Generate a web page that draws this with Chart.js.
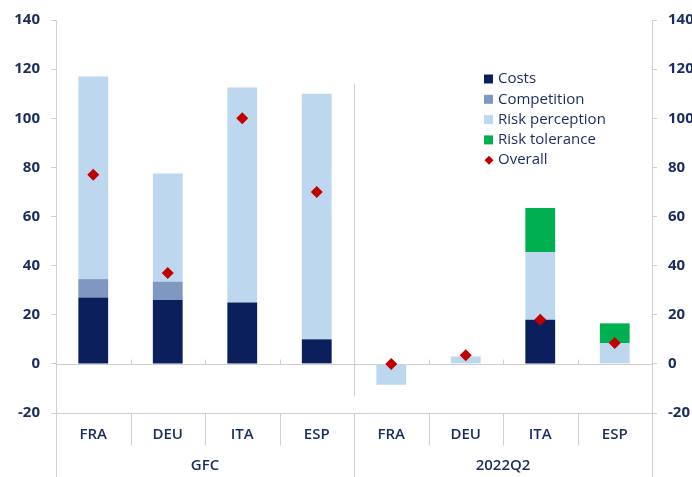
<!DOCTYPE html>
<html>
<head>
<meta charset="utf-8">
<script src="https://cdn.jsdelivr.net/npm/chart.js@4.4.1/dist/chart.umd.min.js"></script>
<style>
  body { margin: 0; background: #fff; }
  #wrap { width: 692px; height: 477px; position: relative; }
</style>
</head>
<body>
<div id="wrap"><canvas id="chart"></canvas></div>
<script>
const countries = ["FRA", "DEU", "ITA", "ESP", "FRA", "DEU", "ITA", "ESP"];
const groups = ["GFC", "2022Q2"];
const costs = [27, 26, 25, 10, 0, 0, 18, 0];
const competition = [7.5, 7.5, 0, 0, 0, 0, 0, 0];
const riskPerception = [82.5, 44, 87.5, 100, -8.5, 3, 27.5, 8.5];
const riskTolerance = [0, 0, 0, 0, 0, 0, 18, 8];
const overall = [77, 37, 100, 70, 0, 3.5, 18, 8.5];
const yMin = -20, yMax = 140, yStep = 20;

const navy = "#1b2c5e";
const lineGrey = "#cfcfcf";
const fontName = "'Open Sans', Lato, sans-serif";

// grey frame, separators, group labels and the legend
const framePlugin = {
  id: "frame",
  beforeDatasetsDraw(chart) {
    const ctx = chart.ctx;
    const area = chart.chartArea;
    const x = chart.scales.x;
    const y = chart.scales.y;
    const H = chart.height;
    const half = (x.getPixelForValue(1) - x.getPixelForValue(0)) / 2;
    ctx.save();
    ctx.strokeStyle = lineGrey;
    ctx.lineWidth = 1;
    const line = (x1, y1, x2, y2) => {
      ctx.beginPath();
      ctx.moveTo(Math.round(x1) + 0.5, Math.round(y1) + 0.5);
      ctx.lineTo(Math.round(x2) + 0.5, Math.round(y2) + 0.5);
      ctx.stroke();
    };
    const y0 = y.getPixelForValue(0);
    line(area.left, area.top, area.left, H);
    line(area.right, area.top, area.right, H);
    line(area.left, y0, area.right, y0);
    line(area.left, area.bottom, area.right, area.bottom);
    // group divider
    const mid = x.getPixelForValue(3) + half;
    line(mid, y.getPixelForValue(114.5), mid, y.getPixelForValue(-13));
    line(mid, area.bottom, mid, H);
    // category separators
    [0, 1, 2, 4, 5, 6].forEach(i => {
      const sx = x.getPixelForValue(i) + half;
      line(sx, area.bottom, sx, area.bottom + 32);
      line(sx, y0 - 5, sx, y0);
    });
    ctx.restore();
  },
  afterDraw(chart) {
    const ctx = chart.ctx;
    const x = chart.scales.x;
    ctx.save();
    ctx.fillStyle = navy;
    ctx.font = "600 15px " + fontName;
    ctx.textAlign = "center";
    ctx.textBaseline = "middle";
    groups.forEach((g, gi) => {
      const cx = (x.getPixelForValue(gi * 4) + x.getPixelForValue(gi * 4 + 3)) / 2;
      ctx.fillText(g, cx, 466);
    });
    // legend
    ctx.textAlign = "left";
    ctx.font = "500 15px " + fontName;
    chart.data.datasets.forEach((ds, i) => {
      const ly = 79 + i * 20.3;
      ctx.fillStyle = ds.backgroundColor;
      if (ds.type === "line") {
        ctx.beginPath();
        ctx.moveTo(489, ly - 4.5);
        ctx.lineTo(493.5, ly);
        ctx.lineTo(489, ly + 4.5);
        ctx.lineTo(484.5, ly);
        ctx.closePath();
        ctx.fill();
      } else {
        ctx.fillRect(484, ly - 4.5, 9, 9);
      }
      ctx.fillStyle = navy;
      ctx.fillText(ds.label, 498, ly);
    });
    ctx.restore();
  }
};

const barDefaults = { categoryPercentage: 1, barPercentage: 0.4, borderWidth: 0, order: 2 };

new Chart(document.getElementById("chart"), {
  type: "bar",
  data: {
    labels: countries,
    datasets: [
      Object.assign({ label: "Costs", data: costs, backgroundColor: "#0a1f5c" }, barDefaults),
      Object.assign({ label: "Competition", data: competition, backgroundColor: "#7f98c1" }, barDefaults),
      Object.assign({ label: "Risk perception", data: riskPerception, backgroundColor: "#bdd7ee" }, barDefaults),
      Object.assign({ label: "Risk tolerance", data: riskTolerance, backgroundColor: "#00b050" }, barDefaults),
      {
        type: "line", label: "Overall", data: overall, stack: "ov",
        showLine: false, pointStyle: "rectRot", pointRadius: 6, pointHoverRadius: 6,
        backgroundColor: "#c00000", borderColor: "#c00000", borderWidth: 0, order: 1
      }
    ]
  },
  options: {
    responsive: true,
    maintainAspectRatio: false,
    animation: false,
    devicePixelRatio: 1,
    layout: { padding: { top: 17, left: 0, right: 0, bottom: 0 } },
    plugins: { legend: { display: false }, tooltip: { enabled: false } },
    scales: {
      x: {
        stacked: true,
        grid: { display: false, drawTicks: false },
        border: { display: false },
        ticks: { color: navy, font: { family: fontName, size: 15, weight: "600" }, padding: 13, maxRotation: 0, autoSkip: false },
        afterFit(scale) { scale.height = 64; }
      },
      y: {
        stacked: true, position: "left", min: yMin, max: yMax,
        grid: { drawOnChartArea: false, drawTicks: true, tickLength: 5, color: lineGrey },
        border: { display: false },
        ticks: { stepSize: yStep, color: navy, font: { family: fontName, size: 15, weight: "bold" }, padding: 11 },
        afterFit(scale) { scale.width = 56; }
      },
      y2: {
        position: "right", min: yMin, max: yMax,
        grid: { drawOnChartArea: false, drawTicks: true, tickLength: 5, color: lineGrey },
        border: { display: false },
        ticks: { stepSize: yStep, color: navy, font: { family: fontName, size: 15, weight: "bold" }, padding: 11 },
        afterFit(scale) { scale.width = 40; }
      }
    }
  },
  plugins: [framePlugin]
});
</script>
</body>
</html>
